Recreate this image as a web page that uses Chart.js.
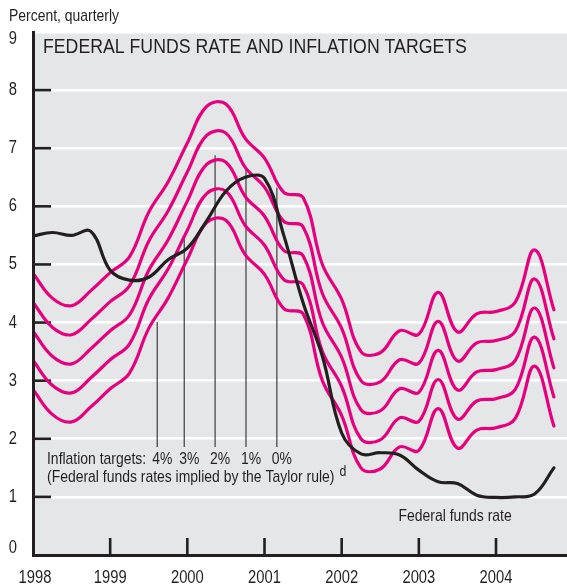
<!DOCTYPE html>
<html>
<head>
<meta charset="utf-8">
<script src="https://cdn.jsdelivr.net/npm/chart.js@4.4.0/dist/chart.umd.min.js"></script>
<style>
  html, body { margin: 0; padding: 0; background: #fff; }
  #wrap { width: 567px; height: 588px; position: relative; }
</style>
</head>
<body>
<div id="wrap"><canvas id="chart" width="567" height="588"></canvas></div>
<script>
// quarterly observations, plotted at the start of each quarter
const quarterStarts = [
  1998.00, 1998.25, 1998.50, 1998.75, 1999.00, 1999.25, 1999.50, 1999.75,
  2000.00, 2000.25, 2000.50, 2000.75, 2001.00, 2001.25, 2001.50, 2001.75,
  2002.00, 2002.25, 2002.50, 2002.75, 2003.00, 2003.25, 2003.50, 2003.75,
  2004.00, 2004.25, 2004.50, 2004.75
];

// Taylor-rule implied rates, one list per inflation target
const target0pct = [4.85, 4.42, 4.29, 4.55, 4.86, 5.13, 5.90, 6.42, 7.09, 7.72, 7.76, 7.17, 6.83, 6.24,
                    6.15, 5.00, 4.40, 3.50, 3.48, 3.86, 3.80, 4.52, 3.84, 4.15, 4.19, 4.35, 5.25, 4.22];
const target1pct = [4.35, 3.92, 3.79, 4.05, 4.36, 4.63, 5.40, 5.92, 6.59, 7.22, 7.26, 6.67, 6.33, 5.74,
                    5.65, 4.50, 3.90, 3.00, 2.98, 3.36, 3.30, 4.02, 3.34, 3.65, 3.69, 3.85, 4.75, 3.72];
const target2pct = [3.85, 3.42, 3.29, 3.55, 3.86, 4.13, 4.90, 5.42, 6.09, 6.72, 6.76, 6.17, 5.83, 5.24,
                    5.15, 4.00, 3.40, 2.50, 2.48, 2.86, 2.80, 3.52, 2.84, 3.15, 3.19, 3.35, 4.25, 3.22];
const target3pct = [3.35, 2.92, 2.79, 3.05, 3.36, 3.63, 4.40, 4.92, 5.59, 6.22, 6.26, 5.67, 5.33, 4.74,
                    4.65, 3.50, 2.90, 2.00, 1.98, 2.36, 2.30, 3.02, 2.34, 2.65, 2.69, 2.85, 3.75, 2.72];
const target4pct = [2.85, 2.42, 2.29, 2.55, 2.86, 3.13, 3.90, 4.42, 5.09, 5.72, 5.76, 5.17, 4.83, 4.24,
                    4.15, 3.00, 2.40, 1.50, 1.48, 1.86, 1.80, 2.52, 1.84, 2.15, 2.19, 2.35, 3.25, 2.22];

const fedFunds = [5.49, 5.55, 5.50, 5.57, 4.90, 4.73, 4.78, 5.08, 5.28, 5.75, 6.26, 6.50, 6.48, 5.50,
                  4.34, 3.42, 2.10, 1.74, 1.76, 1.72, 1.46, 1.26, 1.23, 1.03, 0.99, 1.00, 1.05, 1.50];

const yearTicks = [1998, 1999, 2000, 2001, 2002, 2003, 2004];
const valueTicks = [0, 1, 2, 3, 4, 5, 6, 7, 8, 9];

// leader lines from the legend to each target curve
const targetLabels = ['4%', '3%', '2%', '1%', '0%'];
const targetLineX = [1999.61, 1999.96, 2000.36, 2000.76, 2001.16];
const targetLineTop = [4.01, 5.48, 6.88, 6.64, 6.32];
const targetLineBottom = 1.86;

const FONT = "'Liberation Sans', Arial, Helvetica, sans-serif";
const NARROW = 0.82;   // squeeze Liberation Sans to a condensed face
const PINK = '#e6007e';
const INK = '#231f20';

const toPoints = (xs, ys) => xs.map((x, i) => ({ x: x, y: ys[i] }));

const pinkSet = values => ({
    data: toPoints(quarterStarts, values),
    borderColor: PINK,
    borderWidth: 3.2,
    tension: 0.4,
    pointRadius: 0,
    borderCapStyle: 'round',
    borderJoinStyle: 'round'
});

const datasets = [{
    data: toPoints(quarterStarts, fedFunds),
    borderColor: INK,
    borderWidth: 3.2,
    tension: 0.4,
    pointRadius: 0,
    borderCapStyle: 'round'
}];
[target0pct, target1pct, target2pct, target3pct, target4pct].forEach(v => datasets.push(pinkSet(v)));
targetLineX.forEach((x, k) => {
    datasets.push({
        data: [{ x: x, y: targetLineBottom }, { x: x, y: targetLineTop[k] }],
        borderColor: '#4a4a4c',
        borderWidth: 1.3,
        tension: 0,
        pointRadius: 0
    });
});

function text(ctx, str, x, y, size, align, squeeze) {
    ctx.save();
    ctx.font = size + 'px ' + FONT;
    ctx.textAlign = align || 'left';
    ctx.textBaseline = 'middle';
    ctx.translate(x, y);
    ctx.scale(squeeze || NARROW, 1);
    ctx.fillText(str, 0, 0);
    const w = ctx.measureText(str).width * (squeeze || NARROW);
    ctx.restore();
    return w;
}

const decorations = {
    id: 'decorations',
    beforeDraw(chart) {
        const { ctx, chartArea: a } = chart;
        ctx.save();
        ctx.fillStyle = '#e5e6e8';
        ctx.fillRect(a.left, a.top, a.right - a.left, a.bottom - a.top);
        ctx.restore();
    },
    beforeDatasetsDraw(chart) {
        const { ctx, chartArea: a, scales: { x, y } } = chart;
        ctx.save();
        ctx.strokeStyle = INK;
        ctx.lineWidth = 2.6;
        valueTicks.forEach(v => {
            if (v === 0 || v === 9) return;
            const py = y.getPixelForValue(v);
            ctx.beginPath();
            ctx.moveTo(a.left, py);
            ctx.lineTo(a.left + 18, py);
            ctx.stroke();
        });
        yearTicks.forEach(yr => {
            if (yr === 1998) return;
            const px = x.getPixelForValue(yr);
            ctx.beginPath();
            ctx.moveTo(px, a.bottom);
            ctx.lineTo(px, a.bottom - 17);
            ctx.stroke();
        });
        ctx.restore();
    },
    afterDraw(chart) {
        const { ctx, chartArea: a, scales: { x, y } } = chart;
        ctx.save();
        ctx.fillStyle = INK;

        // axis labels
        valueTicks.forEach(v => {
            let py = y.getPixelForValue(v);
            if (v === 9) py += 7;
            if (v === 0) py -= 7;
            text(ctx, String(v), 17, py, 18, 'right');
        });
        yearTicks.forEach(yr => {
            const px = yr === 1998 ? 35 : x.getPixelForValue(yr);
            text(ctx, String(yr), px, 578, 18, 'center');
        });

        text(ctx, 'Percent, quarterly', 9, 16, 17, 'left');
        text(ctx, 'FEDERAL FUNDS RATE AND INFLATION TARGETS', a.left + 10, 47, 20, 'left', 0.885);

        // legend for the target curves
        const rowY = y.getPixelForValue(1.64);
        text(ctx, 'Inflation targets:', 47, rowY, 17, 'left');
        targetLabels.forEach((t, k) => {
            text(ctx, t, x.getPixelForValue(targetLineX[k]) - 5, rowY, 17, 'left');
        });
        const row2 = rowY + 18;
        const w = text(ctx, '(Federal funds rates implied by the Taylor rule)', 47, row2, 17, 'left');
        text(ctx, 'd', 47 + w + 5, row2 - 6, 15, 'left');

        text(ctx, 'Federal funds rate', x.getPixelForValue(2003.47), y.getPixelForValue(0.66), 17, 'center');
        ctx.restore();
    }
};

new Chart(document.getElementById('chart'), {
    type: 'line',
    data: { datasets: datasets },
    options: {
        responsive: false,
        animation: false,
        events: [],
        layout: { padding: { top: 32, right: 0, bottom: 0, left: 0 } },
        plugins: {
            legend: { display: false },
            tooltip: { enabled: false }
        },
        scales: {
            x: {
                type: 'linear',
                min: 1998,
                max: 2004.92,
                afterBuildTicks: s => { s.ticks = yearTicks.map(v => ({ value: v })); },
                afterFit: s => { s.height = 33; },
                grid: { display: false, drawTicks: false },
                ticks: { display: false },
                border: { display: true, color: INK, width: 3, z: 1 }
            },
            y: {
                min: 0,
                max: 9,
                afterBuildTicks: s => { s.ticks = valueTicks.map(v => ({ value: v })); },
                afterFit: s => { s.width = 33; },
                grid: { color: '#ffffff', lineWidth: 2.6, drawTicks: false },
                ticks: { display: false },
                border: { display: true, color: INK, width: 3, z: 1 }
            }
        }
    },
    plugins: [decorations]
});
</script>
</body>
</html>
